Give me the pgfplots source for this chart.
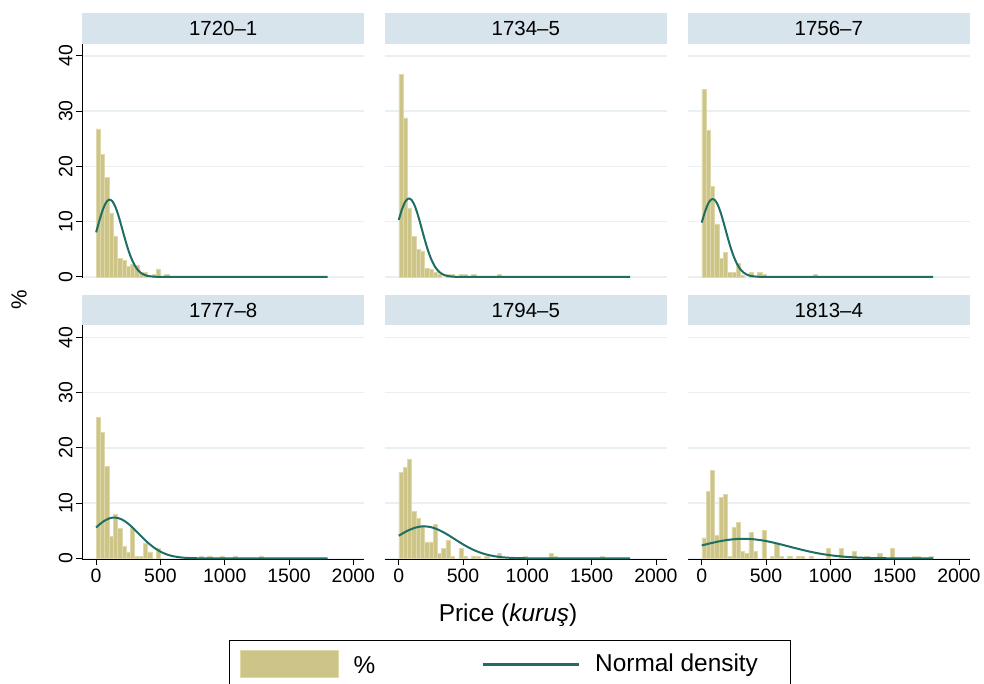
\documentclass[border=0pt]{standalone}
\usepackage{fontspec}
\setmainfont{Liberation Sans}
\usepackage{pgfplots}
\pgfplotsset{compat=1.18}
\definecolor{khaki}{RGB}{205,196,136}
\definecolor{khakiedge}{RGB}{222,216,170}
\definecolor{normteal}{RGB}{30,110,100}
\definecolor{hdr}{RGB}{216,228,236}
\definecolor{gridc}{RGB}{232,240,244}
\pgfplotsset{
 panel/.style={
  scale only axis, width=282bp, height=234bp,
  xmin=-110, xmax=2083, ymin=-0.2, ymax=42.15,
  ytick={0,10,20,30,40}, ymajorgrids,
  major grid style={draw=gridc, line width=1.4bp},
  xtick={0,500,1000,1500,2000},
  tick align=outside, major tick length=6bp,
  every tick/.style={black, line width=0.8bp},
  axis line style={black, line width=0.8bp},
  axis x line*=bottom, axis y line*=left,
  tick label style={font=\fontsize{19.5}{20}\selectfont},
  /pgf/number format/assume math mode=true,
  /pgf/number format/1000 sep={},
  yticklabel style={rotate=90, anchor=south},
 },
 toprow/.style={xticklabels={}, x axis line style={draw=none}, xtick style={draw=none}},
 noleft/.style={yticklabels={}, y axis line style={draw=none}, ytick style={draw=none}},
 bars/.style={ybar, bar width=33.333, bar shift=0pt, fill=khaki, draw=khakiedge, line width=0.5bp},
 dens/.style={smooth, no markers, draw=normteal, line width=2bp},
}
\begin{document}
\begin{tikzpicture}
\useasboundingbox (0bp,0bp) rectangle (984bp,684bp);
\tikzset{hd/.style={fill=hdr, draw=none, anchor=south west, inner sep=0pt, minimum width=282bp, font=\fontsize{20.5}{21}\selectfont}}
% ---------- 1720-1
\begin{axis}[panel, toprow, at={(82bp,406bp)}, anchor=south west]
\addplot[bars] coordinates {(16.67,26.8) (50,22.2) (83.33,18.0) (116.67,11.6) (150,7.3) (183.33,3.4) (216.67,3.0) (250,1.9) (283.33,2.3) (316.67,2.1) (350,0.7) (383.33,0.8) (450,0.4) (483.33,1.45) (550,0.5)};
\addplot[dens] coordinates {(0,8.07) (25,10.17) (50,12.04) (75,13.38) (100,13.98) (125,13.72) (150,12.65) (175,10.96) (200,8.91) (225,6.81) (250,4.89) (275,3.30) (300,2.09) (325,1.24) (350,0.70) (375,0.37) (400,0.18) (450,0.036) (500,0.006) (600,0) (800,0) (1200,0) (1800,0)};
\end{axis}
% ---------- 1734-5
\begin{axis}[panel, toprow, noleft, at={(384.6bp,406bp)}, anchor=south west]
\addplot[bars] coordinates {(16.67,36.6) (50,28.8) (83.33,12.4) (116.67,7.4) (150,5.0) (183.33,4.7) (216.67,1.6) (250,1.3) (283.33,0.85) (316.67,0.4) (383.33,0.5) (416.67,0.5) (483.33,0.5) (516.67,0.5) (583.33,0.5) (783.33,0.5)};
\addplot[dens] coordinates {(0,10.31) (25,12.21) (50,13.58) (75,14.18) (100,13.92) (125,12.84) (150,11.12) (175,9.05) (200,6.91) (225,4.97) (250,3.35) (275,2.12) (300,1.26) (325,0.71) (350,0.37) (375,0.18) (425,0.037) (475,0.006) (600,0) (800,0) (1200,0) (1800,0)};
\end{axis}
% ---------- 1756-7
\begin{axis}[panel, toprow, noleft, at={(687.6bp,406bp)}, anchor=south west]
\addplot[bars] coordinates {(16.67,34.0) (50,26.5) (83.33,16.4) (116.67,9.6) (150,3.4) (183.33,4.5) (216.67,0.85) (250,0.85) (283.33,2.5) (316.67,0.3) (383.33,0.85) (450,0.85) (483.33,0.5) (883.33,0.5)};
\addplot[dens] coordinates {(0,9.83) (25,11.78) (50,13.27) (75,14.03) (100,13.94) (125,13.02) (150,11.42) (175,9.41) (200,7.28) (225,5.29) (250,3.62) (275,2.32) (300,1.40) (325,0.79) (350,0.42) (375,0.21) (400,0.10) (450,0.018) (500,0.002) (600,0) (800,0) (1200,0) (1800,0)};
\end{axis}
% ---------- 1777-8
\begin{axis}[panel, at={(82bp,124.5bp)}, anchor=south west]
\addplot[bars] coordinates {(16.67,25.5) (50,22.8) (83.33,16.6) (116.67,4.0) (150,8.0) (183.33,5.4) (216.67,2.2) (250,1.2) (283.33,5.4) (316.67,0.4) (350,0.4) (383.33,2.7) (416.67,1.2) (483.33,1.8) (816.67,0.45) (883.33,0.45) (983.33,0.45) (1083.33,0.45) (1283.33,0.45)};
\addplot[dens] coordinates {(0,5.60) (50,6.59) (100,7.23) (150,7.39) (200,7.05) (250,6.27) (300,5.19) (350,4.02) (400,2.89) (450,1.95) (500,1.22) (550,0.71) (600,0.39) (650,0.20) (700,0.093) (800,0.017) (900,0.002) (1000,0) (1400,0) (1800,0)};
\end{axis}
% ---------- 1794-5
\begin{axis}[panel, noleft, at={(384.6bp,124.5bp)}, anchor=south west]
\addplot[bars] coordinates {(16.67,15.6) (50,16.5) (83.33,17.9) (116.67,8.5) (150,7.2) (183.33,6.0) (216.67,3.0) (250,3.0) (283.33,6.2) (316.67,0.9) (350,1.8) (383.33,3.2) (416.67,0.4) (483.33,1.8) (516.67,0.4) (583.33,0.4) (616.67,0.4) (683.33,0.4) (783.33,0.9) (983.33,0.4) (1183.33,0.9) (1216.67,0.4) (1583.33,0.4)};
\addplot[dens] coordinates {(0,4.10) (50,4.78) (100,5.33) (150,5.69) (200,5.80) (250,5.66) (300,5.27) (350,4.70) (400,4.01) (450,3.26) (500,2.54) (550,1.89) (600,1.35) (650,0.92) (700,0.60) (750,0.37) (800,0.22) (850,0.126) (900,0.068) (1000,0.018) (1100,0.004) (1200,0) (1500,0) (1800,0)};
\end{axis}
% ---------- 1813-4
\begin{axis}[panel, noleft, at={(687.6bp,124.5bp)}, anchor=south west]
\addplot[bars] coordinates {(16.67,3.7) (50,12.1) (83.33,15.9) (116.67,4.1) (150,11.1) (183.33,11.6) (216.67,0.4) (250,5.6) (283.33,6.5) (316.67,1.3) (350,0.85) (383.33,4.7) (416.67,1.3) (483.33,5.1) (550,0.4) (583.33,2.7) (616.67,0.4) (683.33,0.4) (750,0.4) (783.33,0.4) (850,0.4) (983.33,1.8) (1083.33,1.8) (1183.33,1.3) (1283.33,0.4) (1383.33,0.85) (1483.33,1.8) (1650,0.4) (1683.33,0.4) (1783.33,0.4)};
\addplot[dens] coordinates {(0,2.34) (100,2.91) (200,3.34) (300,3.54) (400,3.47) (500,3.14) (600,2.62) (700,2.02) (800,1.44) (900,0.94) (1000,0.57) (1100,0.32) (1200,0.166) (1300,0.079) (1400,0.035) (1500,0.014) (1600,0.005) (1700,0.001) (1800,0)};
\end{axis}
% ---------- headers
\node[hd, minimum height=31bp] at (82bp,640bp) {1720–1};
\node[hd, minimum height=31bp] at (384.6bp,640bp) {1734–5};
\node[hd, minimum height=31bp] at (687.6bp,640bp) {1756–7};
\node[hd, minimum height=30bp] at (82bp,358.5bp) {1777–8};
\node[hd, minimum height=30bp] at (384.6bp,358.5bp) {1794–5};
\node[hd, minimum height=30bp] at (687.6bp,358.5bp) {1813–4};
% ---------- axis titles
\node[rotate=90, font=\fontsize{22}{22}\selectfont] at (19bp,384bp) {\%};
\node[font=\fontsize{24.5}{25}\selectfont] at (508bp,69bp) {Price (\textit{kuruş})};
% ---------- legend
\draw[black, line width=0.8bp] (229bp,-20bp) rectangle (790bp,44bp);
\fill[khaki] (240bp,7bp) rectangle (338bp,34bp);
\draw[khakiedge, line width=0.6bp] (240bp,7bp) rectangle (338bp,34bp);
\node[anchor=west, font=\fontsize{24.5}{25}\selectfont] at (350bp,19bp) {\%};
\draw[normteal, line width=2.4bp] (483bp,19.5bp) -- (579bp,19.5bp);
\node[anchor=west, inner sep=0pt, font=\fontsize{24.5}{25}\selectfont] at (595bp,19bp) {Normal density};
\end{tikzpicture}
\end{document}
